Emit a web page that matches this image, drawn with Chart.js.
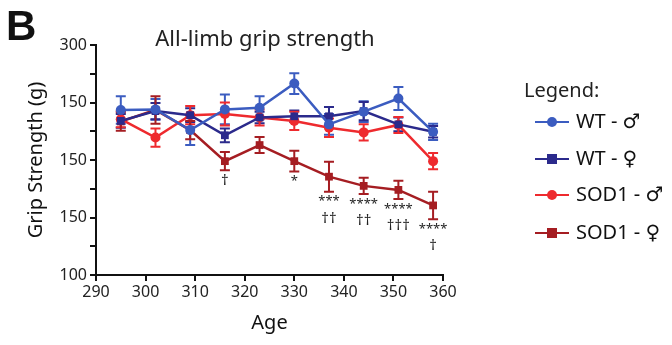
<!DOCTYPE html>
<html><head><meta charset="utf-8">
<script src="https://cdn.jsdelivr.net/npm/chart.js@4/dist/chart.umd.min.js"></script>
<style>html,body{margin:0;padding:0;background:#fff}#wrap{width:672px;height:345px;position:relative}</style>
</head><body><div id="wrap"><canvas id="c" width="672" height="345"></canvas></div>
<script>
const ages = [295, 302, 309, 316, 323, 330, 337, 344, 351, 358];
const wtMale = [243.5, 244, 226, 244, 245.5, 266.5, 231, 242, 253.5, 224.5];
const wtMaleErr = [12, 9, 13, 13, 10, 9, 9, 9, 10, 7];
const wtFemale = [234, 242.5, 239, 221.5, 237, 238, 238, 242.5, 231, 224.5];
const wtFemaleErr = [6, 7, 6, 6, 5, 5, 8, 8, 6, 5];
const sodMale = [235.5, 219.5, 239, 240, 237, 234, 228, 224, 230.5, 199];
const sodMaleErr = [7, 8, 8, 10, 7, 8, 8, 7, 7, 7];
const sodFemale = [233.5, 243.5, 226, 199, 213, 199, 185.5, 177.5, 174, 160.5];
const sodFemaleErr = [8, 12, 8, 8, 7, 9, 13, 7, 8, 12];
const sigTop = ['', '', '', '\u2020', '', '*', '***', '****', '****', '****'];
const sigBottom = ['', '', '', '', '', '', '\u2020\u2020', '\u2020\u2020', '\u2020\u2020\u2020', '\u2020'];
const yTickLabels = {100: '100', 150: '150', 200: '150', 250: '150', 300: '300'};
const seriesNames = ['WT - \u2642', 'WT - \u2640', 'SOD1 - \u2642', 'SOD1 - \u2640'];

const FONT = '"Noto Sans", "DejaVu Sans", sans-serif';
const colors = ['#3b5cc0', '#2b2a8c', '#ee2a2e', '#a51d22'];
const styles = ['circle', 'rect', 'circle', 'rect'];
const vals = [wtMale, wtFemale, sodMale, sodFemale];
const errs = [wtMaleErr, wtFemaleErr, sodMaleErr, sodFemaleErr];

const datasets = vals.map((v, i) => ({
  label: seriesNames[i],
  data: ages.map((a, j) => ({x: a, y: v[j]})),
  borderColor: colors[i], backgroundColor: colors[i],
  borderWidth: 2.5, pointStyle: styles[i],
  pointRadius: styles[i] === 'rect' ? 5.5 : 5, pointBorderWidth: 0,
  errs: errs[i], tension: 0
}));

const errorBars = {
  id: 'errorBars',
  beforeDatasetsDraw(chart) {
    const ctx = chart.ctx, xs = chart.scales.x, ys = chart.scales.y;
    chart.data.datasets.forEach(ds => {
      ctx.save(); ctx.strokeStyle = ds.borderColor; ctx.lineWidth = 2;
      ds.data.forEach((p, j) => {
        const x = xs.getPixelForValue(p.x);
        const t = ys.getPixelForValue(p.y + ds.errs[j]);
        const b = ys.getPixelForValue(p.y - ds.errs[j]);
        ctx.beginPath();
        ctx.moveTo(x, t); ctx.lineTo(x, b);
        ctx.moveTo(x - 5, t); ctx.lineTo(x + 5, t);
        ctx.moveTo(x - 5, b); ctx.lineTo(x + 5, b);
        ctx.stroke();
      });
      ctx.restore();
    });
  }
};

const extras = {
  id: 'extras',
  afterDraw(chart) {
    const ctx = chart.ctx, xs = chart.scales.x, ys = chart.scales.y;
    ctx.save();
    ctx.fillStyle = '#222'; ctx.textAlign = 'center'; ctx.textBaseline = 'middle';
    ages.forEach((a, j) => {
      const x = xs.getPixelForValue(a);
      const b = ys.getPixelForValue(sodFemale[j] - sodFemaleErr[j]);
      if (sigTop[j]) {
        ctx.font = (sigTop[j].includes('*') ? '13px ' : '15px ') + FONT;
        ctx.fillText(sigTop[j], x, b + 10);
      }
      if (sigBottom[j]) {
        ctx.font = '15px ' + FONT;
        ctx.fillText(sigBottom[j], x, b + 27);
      }
    });
    ctx.fillStyle = '#111';
    ctx.textAlign = 'left'; ctx.textBaseline = 'alphabetic';
    ctx.font = 'bold 42px "Liberation Sans", Arial, sans-serif';
    ctx.fillText('B', 6, 40);
    ctx.fillStyle = '#222';
    ctx.font = '22px ' + FONT; ctx.textAlign = 'center';
    ctx.fillText('All-limb grip strength', 265, 46);
    ctx.textAlign = 'left'; ctx.textBaseline = 'middle';
    ctx.font = '20px ' + FONT;
    ctx.fillText('Legend:', 524, 91);
    const ly = [122, 159, 195, 233];
    seriesNames.forEach((n, i) => {
      ctx.strokeStyle = colors[i]; ctx.fillStyle = colors[i]; ctx.lineWidth = 2;
      ctx.beginPath(); ctx.moveTo(535, ly[i]); ctx.lineTo(569, ly[i]); ctx.stroke();
      if (styles[i] === 'circle') { ctx.beginPath(); ctx.arc(552, ly[i], 5, 0, Math.PI * 2); ctx.fill(); }
      else ctx.fillRect(547, ly[i] - 5, 10, 10);
      ctx.fillStyle = '#111';
      ctx.fillText(n, 576, ly[i]);
    });
    ctx.restore();
  }
};

new Chart(document.getElementById('c'), {
  type: 'line',
  data: {datasets},
  options: {
    responsive: false, animation: false,
    layout: {padding: {left: 20, right: 229, top: 45, bottom: 6}},
    plugins: {legend: {display: false}, tooltip: {enabled: false}},
    scales: {
      x: {
        type: 'linear', min: 290, max: 360,
        ticks: {stepSize: 10, color: '#222', font: {size: 16, family: FONT}, padding: 2},
        grid: {drawOnChartArea: false, drawTicks: true, tickLength: 6, color: '#111', lineWidth: 2},
        border: {display: true, color: '#111', width: 2},
        title: {display: true, text: 'Age', color: '#111', font: {size: 20, family: FONT}, padding: {top: 0}},
        afterFit(s) { s.height = 64; }
      },
      y: {
        min: 100, max: 300,
        ticks: {stepSize: 25, color: '#222', font: {size: 16, family: FONT}, padding: 3,
          callback: v => yTickLabels[v] || ''},
        grid: {drawOnChartArea: false, drawTicks: true, tickLength: 6, color: '#111', lineWidth: 2},
        border: {display: true, color: '#111', width: 2},
        title: {display: true, text: 'Grip Strength (g)', color: '#111', font: {size: 20, family: FONT}, padding: {bottom: 2}},
        afterFit(s) { s.width = 76; }
      }
    }
  },
  plugins: [errorBars, extras]
});
</script></body></html>
